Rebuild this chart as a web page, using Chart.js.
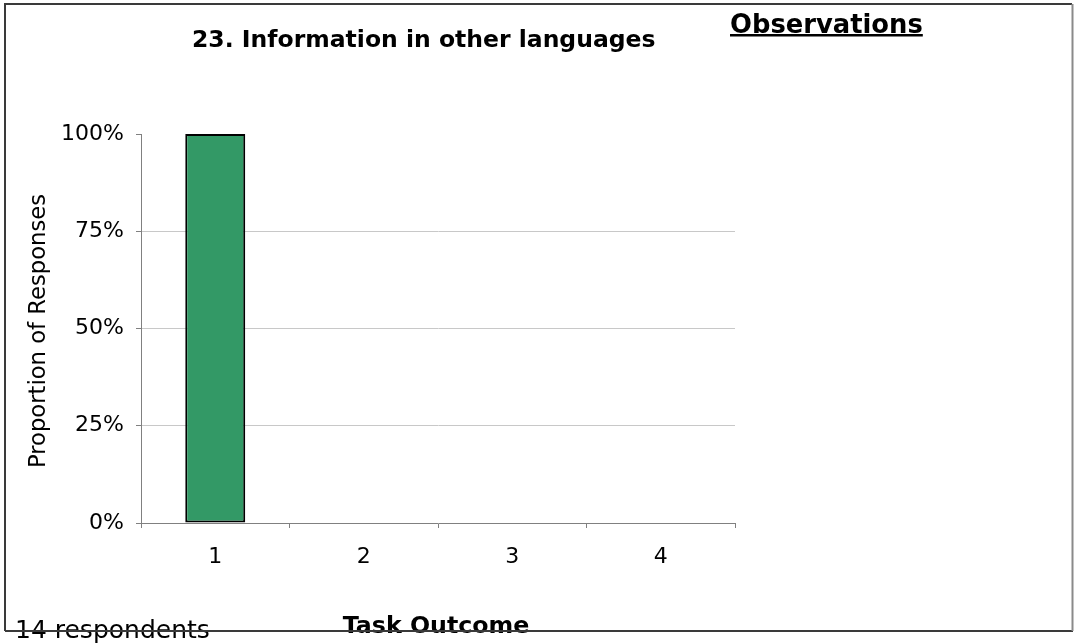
<!DOCTYPE html>
<html>
<head>
<meta charset="utf-8">
<script src="https://cdn.jsdelivr.net/npm/chart.js@4.4.1/dist/chart.umd.min.js"></script>
<style>
  html, body { margin: 0; padding: 0; background: #fff; }
  .parent { width: 1074px; height: 644px; position: relative; }
</style>
</head>
<body>
<div class="parent"><canvas id="chart"></canvas></div>
<script>
// data
const categories = ['1', '2', '3', '4'];
const proportions = [100, 0, 0, 0]; // percent of responses
const yTicks = [0, 25, 50, 75, 100];

const chartTitle = '23. Information in other languages';
const sideTitle = 'Observations';
const xTitle = 'Task Outcome';
const yTitle = 'Proportion of Responses';
const footNote = '14 respondents';

const FONT = 'Verdana, "DejaVu Sans", sans-serif';

// frame + free texts drawn around the plot
const extras = {
    id: 'extras',
    afterDraw(chart) {
        const ctx = chart.ctx;
        ctx.save();
        ctx.fillStyle = '#000';

        ctx.font = 'bold 23.5px ' + FONT;
        ctx.textAlign = 'left';
        ctx.textBaseline = 'alphabetic';
        ctx.fillText(chartTitle, 192, 47);

        ctx.font = 'bold 25.8px ' + FONT;
        ctx.fillText(sideTitle, 730, 33);
        const w = ctx.measureText(sideTitle).width;
        ctx.fillRect(730, 34, w, 2.5);

        ctx.font = 'bold 23.7px ' + FONT;
        ctx.textAlign = 'center';
        ctx.fillText(xTitle, 436, 633);

        ctx.font = '25px ' + FONT;
        ctx.textAlign = 'left';
        ctx.fillText(footNote, 15, 638);

        ctx.save();
        ctx.font = '22.7px ' + FONT;
        ctx.translate(39, 331);
        ctx.rotate(-Math.PI / 2);
        ctx.textAlign = 'center';
        ctx.textBaseline = 'middle';
        ctx.fillText(yTitle, 0, 0);
        ctx.restore();

        // outer frame
        ctx.lineWidth = 2;
        ctx.strokeStyle = '#3a3a3a';
        ctx.beginPath();
        ctx.moveTo(5, 631); ctx.lineTo(5, 4); ctx.lineTo(1072, 4);
        ctx.moveTo(5, 631); ctx.lineTo(1073, 631);
        ctx.stroke();
        ctx.strokeStyle = '#8a8a8a';
        ctx.beginPath();
        ctx.moveTo(1072.5, 4); ctx.lineTo(1072.5, 631);
        ctx.stroke();
        ctx.restore();
    }
};

new Chart(document.getElementById('chart'), {
    type: 'bar',
    data: {
        labels: categories,
        datasets: [{
            data: proportions,
            backgroundColor: '#339966',
            borderColor: '#000',
            borderWidth: 2,
            borderSkipped: false,
            categoryPercentage: 1,
            barPercentage: 0.404
        }]
    },
    options: {
        responsive: true,
        maintainAspectRatio: false,
        animation: false,
        layout: { padding: { top: 134, right: 339, left: 0, bottom: 0 } },
        plugins: {
            legend: { display: false },
            title: { display: false },
            tooltip: { enabled: false }
        },
        scales: {
            x: {
                afterFit(scale) { scale.height = 121; },
                grid: {
                    offset: true,
                    drawOnChartArea: false,
                    tickLength: 5,
                    tickColor: '#808080'
                },
                border: { color: '#808080', width: 1 },
                ticks: {
                    color: '#000',
                    padding: 16,
                    font: { family: FONT, size: 22 }
                }
            },
            y: {
                min: 0,
                max: 100,
                afterFit(scale) { scale.width = 141; },
                afterBuildTicks(scale) { scale.ticks = yTicks.map(v => ({ value: v })); },
                grid: {
                    tickLength: 5,
                    tickColor: '#808080',
                    color: c => (c.tick && c.tick.value > 0 && c.tick.value < 100) ? '#c8c8c8' : 'rgba(0,0,0,0)'
                },
                border: { color: '#808080', width: 1 },
                ticks: {
                    color: '#000',
                    padding: 12,
                    font: { family: FONT, size: 22 },
                    callback: v => v + '%'
                }
            }
        }
    },
    plugins: [extras]
});
</script>
</body>
</html>
